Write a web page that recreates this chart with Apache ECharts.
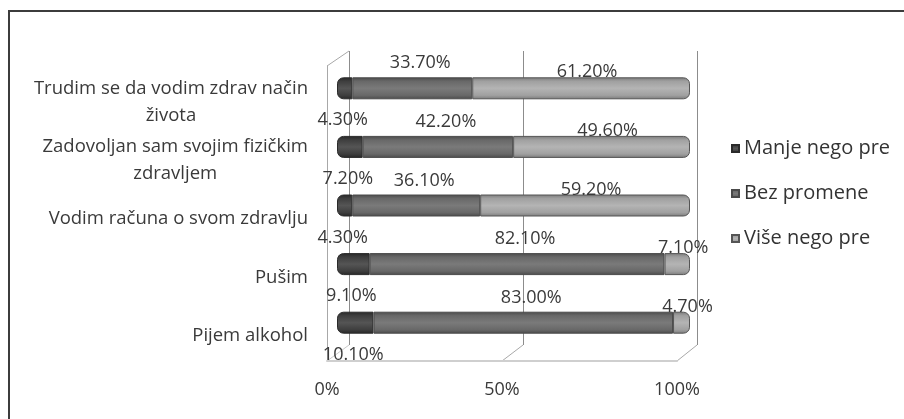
<!DOCTYPE html>
<html>
<head>
<meta charset="utf-8">
<script src="https://cdn.jsdelivr.net/npm/echarts@6/dist/echarts.min.js"></script>
<style>
	html, body { margin: 0; padding: 0; background: #fff; }
	#chart { position: absolute; left: 0; top: 0; width: 904px; height: 419px; }
	#frame {
		position: absolute; left: 8px; top: 10px; width: 910px; height: 420px;
		border-left: 2px solid #3c3c3c; border-top: 2px solid #3c3c3c;
		pointer-events: none;
	}
</style>
</head>
<body>
<div id="chart"></div>
<div id="frame"></div>
<script>
// kategorije i vrednosti (%)
const categories = [
	'Trudim se da vodim zdrav način\nživota',
	'Zadovoljan sam svojim fizičkim\nzdravljem',
	'Vodim računa o svom zdravlju',
	'Pušim',
	'Pijem alkohol',
]
const seriesNames = ['Manje nego pre', 'Bez promene', 'Više nego pre']
const manje = [4.3, 7.2, 4.3, 9.1, 10.1]
const bez = [33.7, 42.2, 36.1, 82.1, 83.0]
const vise = [61.2, 49.6, 59.2, 7.1, 4.7]

const FONT = '"Open Sans", sans-serif'

// 3D okvir: prednja i zadnja ravan
const front = { l: 327, r: 677, t: 66, b: 361 }
const back = { l: 349, r: 697, t: 51, b: 345 }
const W = 904, H = 419

// 100% stacked - svaki red se svodi na ukupno
const totals = manje.map((m, i) => m + bez[i] + vise[i])
const toShare = (arr) => arr.map((v, i) => ({ value: v / totals[i] * 100, raw: v }))

const grad = (dark, base, light) => new echarts.graphic.LinearGradient(0, 0, 0, 1, [
	{ offset: 0, color: dark },
	{ offset: 0.18, color: base },
	{ offset: 0.5, color: light },
	{ offset: 0.82, color: base },
	{ offset: 1, color: dark },
])

const labelFmt = (p) => p.data.raw.toFixed(2) + '%'
const labelStyle = { show: true, formatter: labelFmt, fontFamily: FONT, fontSize: 18, color: '#3a3a3a' }

const myChart = echarts.init(document.getElementById('chart'))
const option = {
	animation: false,
	grid: [
		{ left: 337, right: W - 690, top: 59, bottom: 67 },
		{ left: back.l, right: W - back.r, top: back.t, bottom: H - back.b },
		{ left: front.l, right: W - front.r, top: front.t, bottom: H - front.b },
	],
	xAxis: [
		{ gridIndex: 0, type: 'value', min: 0, max: 100, show: false },
		{
			gridIndex: 1, type: 'value', min: 0, max: 100, interval: 50,
			axisLine: { show: false }, axisTick: { show: false }, axisLabel: { show: false },
			splitLine: { show: true, lineStyle: { color: '#8c8c8c', width: 1 } },
		},
		{
			gridIndex: 2, type: 'value', min: 0, max: 100, interval: 50,
			axisLine: { show: true, lineStyle: { color: '#cfcfcf', width: 2 } },
			axisTick: { show: false }, splitLine: { show: false },
			axisLabel: { margin: 20, formatter: '{value}%', fontFamily: FONT, fontSize: 18, color: '#3a3a3a', padding: [0, 0, 0, 0] },
		},
	],
	yAxis: [
		{
			gridIndex: 0, type: 'category', data: categories, inverse: true,
			axisLine: { show: false }, axisTick: { show: false },
			axisLabel: {
				margin: 29,
				padding: [27, 0, 0, 0],
				formatter: (v) => v.split('\n').map((s) => '{c|' + s + '}').join('\n'),
				rich: { c: { align: 'center', fontFamily: FONT, fontSize: 18.5, lineHeight: 27, color: '#3a3a3a' } },
			},
		},
		{ gridIndex: 1, type: 'value', show: false },
		{
			gridIndex: 2, type: 'value', axisLabel: { show: false }, splitLine: { show: false }, axisTick: { show: false },
			axisLine: { show: true, lineStyle: { color: '#a8a8a8', width: 1 } },
		},
	],
	legend: {
		orient: 'vertical', left: 726, top: 132, icon: 'rect',
		itemWidth: 7, itemHeight: 7, itemGap: 22,
		textStyle: { fontFamily: FONT, fontSize: 20, color: '#333', lineHeight: 23 },
		data: seriesNames,
	},
	series: [
		{
			name: seriesNames[0], type: 'bar', stack: 'a', barWidth: 22,
			data: toShare(manje),
			itemStyle: { color: grad('#262626', '#3e3e3e', '#555'), borderColor: '#2a2a2a', borderWidth: 1, borderRadius: [6, 0, 0, 6] },
			label: { ...labelStyle, position: 'bottom', distance: 12, offset: [-2, 0] },
		},
		{
			name: seriesNames[1], type: 'bar', stack: 'a',
			data: toShare(bez),
			itemStyle: { color: grad('#4a4a4a', '#686868', '#7a7a7a'), borderColor: '#4a4a4a', borderWidth: 1 },
			label: { ...labelStyle, position: 'top', distance: 5, offset: [8, 0] },
		},
		{
			name: seriesNames[2], type: 'bar', stack: 'a',
			data: toShare(vise),
			itemStyle: { color: grad('#7a7a7a', '#a0a0a0', '#b4b4b4'), borderColor: '#555', borderWidth: 1, borderRadius: [0, 6, 6, 0] },
			label: { ...labelStyle, position: 'top', distance: -4, offset: [6, 0] },
		},
	],
	graphic: [
		{ type: 'line', shape: { x1: front.l, y1: front.t, x2: back.l, y2: back.t }, style: { stroke: '#a8a8a8', lineWidth: 1 } },
		{ type: 'line', shape: { x1: front.l, y1: front.b, x2: back.l, y2: back.b }, style: { stroke: '#c8c8c8', lineWidth: 1 } },
		{ type: 'line', shape: { x1: (front.l + front.r) / 2, y1: front.b, x2: (back.l + back.r) / 2, y2: back.b }, style: { stroke: '#a8a8a8', lineWidth: 1 } },
		{ type: 'line', shape: { x1: front.r, y1: front.b, x2: back.r, y2: back.b }, style: { stroke: '#a8a8a8', lineWidth: 1 } },
	],
}
myChart.setOption(option)
</script>
</body>
</html>
